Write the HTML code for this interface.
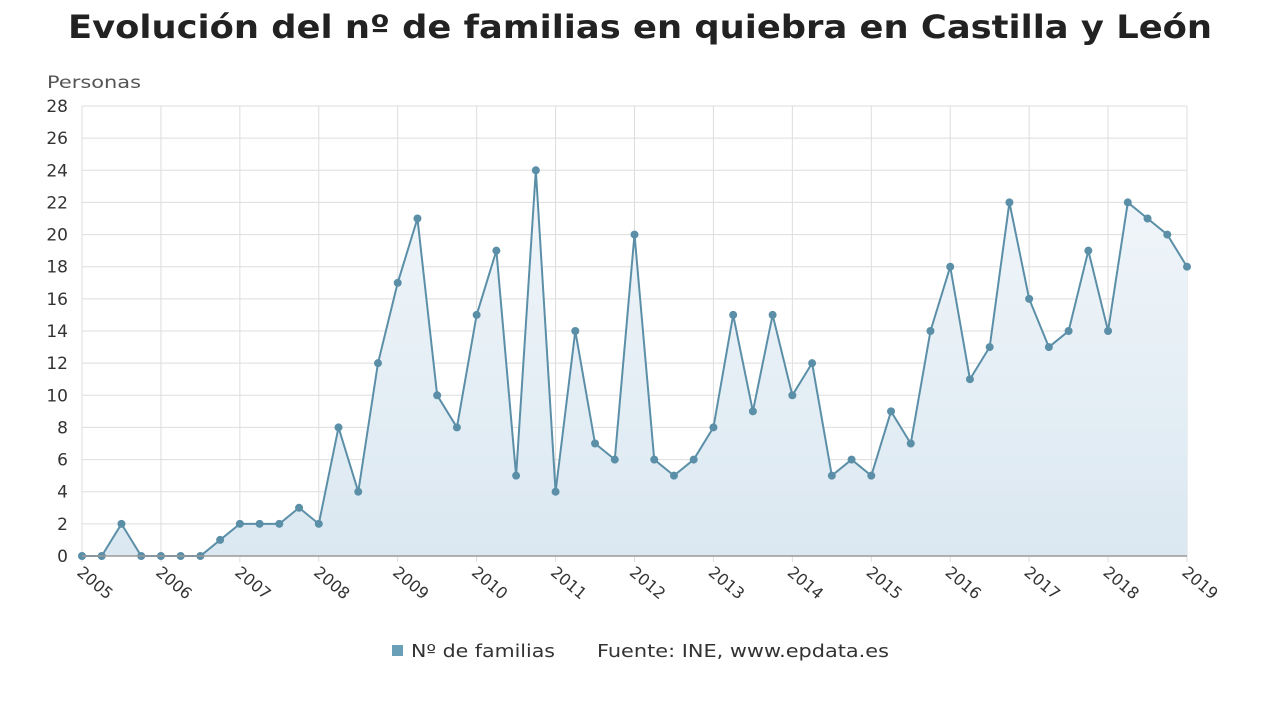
<!DOCTYPE html>
<html><head><meta charset="utf-8"><style>
body{margin:0;background:#fff;width:1280px;height:720px;overflow:hidden;font-family:"DejaVu Sans","Liberation Sans",sans-serif}
</style></head><body>
<svg width="1280" height="720" font-family="DejaVu Sans, Liberation Sans, sans-serif">
<text x="68" y="38" textLength="1144" lengthAdjust="spacingAndGlyphs" font-size="32" font-weight="bold" fill="#222">Evolución del nº de familias en quiebra en Castilla y León</text>
<text x="47" y="88" textLength="94" lengthAdjust="spacingAndGlyphs" font-size="17" fill="#555">Personas</text>
<g id="grid"></g><g id="plot"></g><g id="axes"></g>
<rect x="392" y="645" width="11" height="11" fill="#6a9fb8"/>
<text x="411" y="657" textLength="144" lengthAdjust="spacingAndGlyphs" font-size="18" fill="#333">Nº de familias</text>
<text x="597" y="657" textLength="292" lengthAdjust="spacingAndGlyphs" font-size="18" fill="#333">Fuente: INE, www.epdata.es</text>
</svg>
<script>
const years=[2005,2006,2007,2008,2009,2010,2011,2012,2013,2014,2015,2016,2017,2018,2019];
const yTicks=[0,2,4,6,8,10,12,14,16,18,20,22,24,26,28];
const values=[0,0,2,0, 0,0,0,1, 2,2,2,3, 2,8,4,12, 17,21,10,8, 15,19,5,24, 4,14,7,6, 20,6,5,6, 8,15,9,15, 10,12,5,6, 5,9,7,14, 18,11,13,22, 16,13,14,19, 14,22,21,20, 18];
const NS="http://www.w3.org/2000/svg";
const x0=82,x1=1187,y0=556,y1=106;
const xs=i=>x0+(x1-x0)*i/(values.length-1);
const ys=v=>y0-(y0-y1)*v/28;
function mk(t,a,p){const e=document.createElementNS(NS,t);for(const k in a)e.setAttribute(k,a[k]);p.appendChild(e);return e;}
const grid=document.getElementById('grid'),plot=document.getElementById('plot'),axes=document.getElementById('axes');
yTicks.forEach(v=>{
 const l=mk('line',{x1:x0,x2:x1,y1:ys(v),y2:ys(v),stroke:'#ddd','stroke-width':1},grid);
 
 const t=mk('text',{x:68,y:ys(v)+6,'text-anchor':'end','font-size':17,fill:'#333'},axes);t.textContent=v;
 
});
years.forEach((y,k)=>{
 const x=xs(k*4);
 const l=mk('line',{x1:x,x2:x,y1:y1,y2:y0+6,stroke:'#ddd','stroke-width':1},grid);
 
 const t=mk('text',{x:x-6,y:y0+18,'font-size':16,fill:'#333',transform:`rotate(40 ${x-6} ${y0+18})`},axes);t.textContent=y;
 
});
const al=mk('line',{x1:x0,x2:x1,y1:y0,y2:y0,stroke:'#999','stroke-width':1.5},axes);

let d=values.map((v,i)=>(i?'L':'M')+xs(i)+' '+ys(v)).join(' ');
const defs=mk('defs',{},plot);const g=mk('linearGradient',{id:'gr',x1:0,y1:0,x2:0,y2:1},defs);
mk('stop',{offset:'0','stop-color':'#f1f6fa'},g);mk('stop',{offset:'1','stop-color':'#dbe8f1'},g);
const area=mk('path',{d:d+` L${x1} ${y0} L${x0} ${y0} Z`,fill:'url(#gr)'},plot);

const line=mk('path',{d:d,fill:'none',stroke:'#5b8fa8','stroke-width':2},plot);

values.forEach((v,i)=>{
 const c=mk('circle',{cx:xs(i),cy:ys(v),r:4,fill:'#5b8fa8'},plot);
 
});
</script>
</body></html>
